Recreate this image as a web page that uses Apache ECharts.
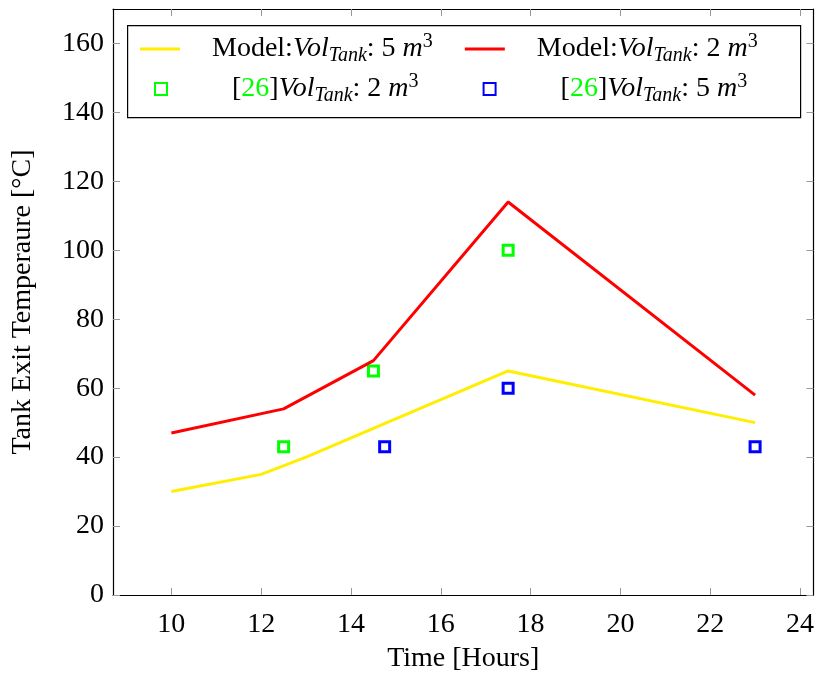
<!DOCTYPE html>
<html>
<head>
<meta charset="utf-8">
<script src="https://cdn.jsdelivr.net/npm/echarts@6/dist/echarts.min.js"></script>
<style>
html,body{margin:0;padding:0;background:#fff;}
#chart{width:817px;height:678px;}
</style>
</head>
<body>
<div id="chart"></div>
<script>
// ---- data ----
const xTicks = [10, 12, 14, 16, 18, 20, 22, 24];
const yTicks = [0, 20, 40, 60, 80, 100, 120, 140, 160];

const modelVol5X = [10, 12, 13, 17.5, 23];
const modelVol5Y = [30, 35, 40, 65, 50];

const modelVol2X = [10, 12.5, 14.5, 17.5, 23];
const modelVol2Y = [47, 54, 68, 114, 58];

const refVol2X = [12.5, 14.5, 17.5];
const refVol2Y = [43, 65, 100];

const refVol5X = [14.75, 17.5, 23];
const refVol5Y = [43, 60, 43];

const xTitle = 'Time [Hours]';
const yTitle = 'Tank Exit Temperaure [\u00B0C]';

// legend entries as [style, text] tokens
const legendM5 = [['n', 'Model:'], ['i', 'Vol'], ['sub', 'Tank'], ['n', ': 5 '], ['i', 'm'], ['sup', '3']];
const legendM2 = [['n', 'Model:'], ['i', 'Vol'], ['sub', 'Tank'], ['n', ': 2 '], ['i', 'm'], ['sup', '3']];
const legendR2 = [['n', '['], ['g', '26'], ['n', ']'], ['i', 'Vol'], ['sub', 'Tank'], ['n', ': 2 '], ['i', 'm'], ['sup', '3']];
const legendR5 = [['n', '['], ['g', '26'], ['n', ']'], ['i', 'Vol'], ['sub', 'Tank'], ['n', ': 5 '], ['i', 'm'], ['sup', '3']];

// ---- build ----
const pair = (xs, ys) => xs.map((x, i) => [x, ys[i]]);
const FONT = 'Liberation Serif';
const FS = 28;
const SFS = 20;

const rich = {
  n: {fontFamily: FONT, fontSize: FS, color: '#000', lineHeight: 34},
  i: {fontFamily: FONT, fontSize: FS, fontStyle: 'italic', color: '#000', lineHeight: 34},
  sub: {fontFamily: FONT, fontSize: SFS, fontStyle: 'italic', color: '#000', lineHeight: 16, verticalAlign: 'bottom'},
  sup: {fontFamily: FONT, fontSize: SFS, color: '#000', lineHeight: 18, verticalAlign: 'top'},
  g: {fontFamily: FONT, fontSize: FS, color: '#00ff00', lineHeight: 34}
};

const ctx = document.createElement('canvas').getContext('2d');
function tokWidth(tokens) {
  let w = 0;
  tokens.forEach(([s, t]) => {
    const st = rich[s];
    ctx.font = (st.fontStyle === 'italic' ? 'italic ' : '') + st.fontSize + 'px "' + FONT + '"';
    w += ctx.measureText(t).width;
  });
  return w;
}
const legendTexts = {};
// centre each legend text inside a fixed-width column using spacer tokens
function buildLegendText(name, tokens, colW) {
  const w = tokWidth(tokens);
  const pl = Math.max(1, Math.round((colW - w) / 2));
  const pr = Math.max(1, Math.round(colW - w - pl));
  rich['pl_' + name] = {width: pl, fontSize: FS, lineHeight: 34};
  rich['pr_' + name] = {width: pr, fontSize: FS, lineHeight: 34};
  legendTexts[name] = '{pl_' + name + '| }' +
    tokens.map(([s, t]) => '{' + s + '|' + t + '}').join('') +
    '{pr_' + name + '| }';
}
buildLegendText('m5', legendM5, 275);
buildLegendText('m2', legendM2, 275);
buildLegendText('r2', legendR2, 306);
buildLegendText('r5', legendR5, 306);

const tickStyle = {show: true, inside: true, length: 7, lineStyle: {color: '#999', width: 1}};

const chart = echarts.init(document.getElementById('chart'), null, {renderer: 'canvas'});
chart.setOption({
  animation: false,
  backgroundColor: '#fff',
  grid: {left: 113, right: 3, top: 9, bottom: 81, containLabel: false},
  xAxis: [{
    type: 'value', min: 8.7, max: 24.3, position: 'bottom',
    name: xTitle, nameLocation: 'middle', nameGap: 50,
    nameTextStyle: {fontFamily: FONT, fontSize: FS, color: '#000'},
    axisLine: {show: true, onZero: false, lineStyle: {color: '#000', width: 1.2}},
    axisTick: Object.assign({}, tickStyle, {customValues: xTicks}),
    axisLabel: {customValues: xTicks, fontFamily: FONT, fontSize: FS, color: '#000', margin: 16},
    splitLine: {show: false}
  }, {
    type: 'value', min: 8.7, max: 24.3, position: 'top',
    axisLine: {show: true, onZero: false, lineStyle: {color: '#000', width: 1.2}},
    axisTick: Object.assign({}, tickStyle, {customValues: xTicks}),
    axisLabel: {show: false},
    splitLine: {show: false}
  }],
  yAxis: [{
    type: 'value', min: 0, max: 170, position: 'left',
    name: yTitle, nameLocation: 'middle', nameGap: 76,
    nameTextStyle: {fontFamily: FONT, fontSize: FS, color: '#000'},
    axisLine: {show: true, onZero: false, lineStyle: {color: '#000', width: 1.2}},
    axisTick: Object.assign({}, tickStyle, {customValues: yTicks}),
    axisLabel: {customValues: yTicks, fontFamily: FONT, fontSize: FS, color: '#000', margin: 9},
    splitLine: {show: false}
  }, {
    type: 'value', min: 0, max: 170, position: 'right',
    axisLine: {show: true, onZero: false, lineStyle: {color: '#000', width: 1.2}},
    axisTick: Object.assign({}, tickStyle, {customValues: yTicks}),
    axisLabel: {show: false},
    splitLine: {show: false}
  }],
  legend: [{
    data: ['m5', 'm2'],
    left: 140, top: 49 - 17, padding: 0,
    icon: 'rect',
    itemWidth: 40, itemHeight: 3, itemGap: 5,
    formatter: n => legendTexts[n],
    textStyle: {fontFamily: FONT, fontSize: FS, color: '#000', rich: rich}
  }, {
    data: ['r2', 'r5'],
    left: 154, top: 89 - 17, padding: 0,
    itemWidth: 12, itemHeight: 12, itemGap: 5,
    formatter: n => legendTexts[n],
    textStyle: {fontFamily: FONT, fontSize: FS, color: '#000', rich: rich}
  }],
  graphic: [{
    type: 'rect', left: 127, top: 25, z: -1,
    shape: {width: 673, height: 92},
    style: {fill: '#fff', stroke: '#000', lineWidth: 1.2}
  }],
  series: [{
    name: 'm5', type: 'line', data: pair(modelVol5X, modelVol5Y),
    symbol: 'none', lineStyle: {color: '#ffee00', width: 3}, itemStyle: {color: '#ffee00'}
  }, {
    name: 'm2', type: 'line', data: pair(modelVol2X, modelVol2Y),
    symbol: 'none', lineStyle: {color: '#ff0000', width: 3}, itemStyle: {color: '#ff0000'}
  }, {
    name: 'r2', type: 'scatter', data: pair(refVol2X, refVol2Y),
    symbol: 'rect', symbolSize: 10,
    itemStyle: {color: '#ffffff', borderColor: '#00ff00', borderWidth: 3, opacity: 1}
  }, {
    name: 'r5', type: 'scatter', data: pair(refVol5X, refVol5Y),
    symbol: 'rect', symbolSize: 10,
    itemStyle: {color: '#ffffff', borderColor: '#0000ff', borderWidth: 3, opacity: 1}
  }]
});
</script>
</body>
</html>
